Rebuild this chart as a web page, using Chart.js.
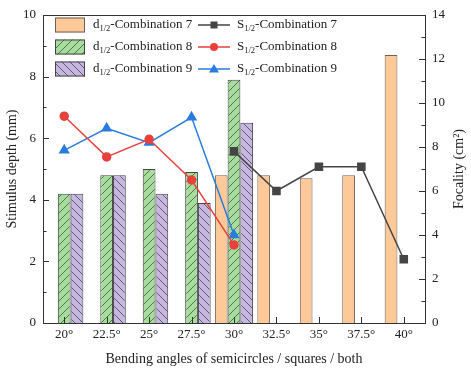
<!DOCTYPE html>
<html>
<head>
<meta charset="utf-8">
<script src="https://cdn.jsdelivr.net/npm/chart.js@4/dist/chart.umd.min.js"></script>
<style>
  html, body { margin: 0; padding: 0; background: #fff; }
  canvas { display: block; }
</style>
</head>
<body>
<canvas id="chart" width="471" height="371"></canvas>
<script>
// categories + values
const angles = ["20°", "22.5°", "25°", "27.5°", "30°", "32.5°", "35°", "37.5°", "40°"];

const depth7 = [null, null, null, null, 4.8, 4.8, 4.7, 4.8, 8.7];
const depth8 = [4.2, 4.8, 5.0, 4.9, 7.9, null, null, null, null];
const depth9 = [4.2, 4.8, 4.2, 3.9, 6.5, null, null, null, null];

const focality7 = [null, null, null, null, 7.8, 6.0, 7.1, 7.1, 2.9];
const focality8 = [9.4, 7.55, 8.35, 6.5, 3.55, null, null, null, null];
const focality9 = [7.85, 8.85, 8.2, 9.35, 4.0, null, null, null, null];

const depthTicks = [0, 2, 4, 6, 8, 10];
const focalityTicks = [0, 2, 4, 6, 8, 10, 12, 14];

const serif = "'Liberation Serif', 'Times New Roman', serif";
const axisColor = "#333";

function hatch(bg, lineColor, forward) {
  const c = document.createElement("canvas");
  c.width = 8;
  c.height = 8;
  const g = c.getContext("2d");
  g.fillStyle = bg;
  g.fillRect(0, 0, 8, 8);
  g.strokeStyle = lineColor;
  g.lineWidth = 0.8;
  g.beginPath();
  if (forward) {
    g.moveTo(0, 8); g.lineTo(8, 0);
    g.moveTo(-2, 2); g.lineTo(2, -2);
    g.moveTo(6, 10); g.lineTo(10, 6);
  } else {
    g.moveTo(0, 0); g.lineTo(8, 8);
    g.moveTo(-2, 6); g.lineTo(2, 10);
    g.moveTo(6, -2); g.lineTo(10, 2);
  }
  g.stroke();
  return g.createPattern(c, "repeat");
}

const ctx = document.getElementById("chart").getContext("2d");
const orangeFill = "#fdc998";
const greenFill = hatch("#a8dc9f", "#3d5c3a", true);
const purpleFill = hatch("#c6b7de", "#4b3d66", false);

// legend rows: bar part + line part, with the dataset index each refers to
const legendRows = [
  ["d", "-Combination 7", 0, "S", "-Combination 7", 3],
  ["d", "-Combination 8", 1, "S", "-Combination 8", 4],
  ["d", "-Combination 9", 2, "S", "-Combination 9", 5],
];

function drawSubLabel(c, x, y, main, sub, rest) {
  c.textAlign = "left";
  c.textBaseline = "middle";
  c.font = "13px " + serif;
  c.fillText(main, x, y);
  x += c.measureText(main).width;
  c.font = "8.5px " + serif;
  c.fillText(sub, x, y + 4);
  x += c.measureText(sub).width;
  c.font = "13px " + serif;
  c.fillText(rest, x, y);
}

function drawMarker(c, style, x, y, color) {
  c.fillStyle = color;
  c.beginPath();
  if (style === "rect") {
    c.rect(x - 3.5, y - 3.5, 7, 7);
  } else if (style === "circle") {
    c.arc(x, y, 4, 0, Math.PI * 2);
  } else {
    c.moveTo(x, y - 5);
    c.lineTo(x + 5, y + 3.5);
    c.lineTo(x - 5, y + 3.5);
    c.closePath();
  }
  c.fill();
}

const framePlugin = {
  id: "frame",
  afterDraw(chart) {
    const c = chart.ctx;
    const a = chart.chartArea;
    const yL = chart.scales.y;
    const yR = chart.scales.y1;
    const x = chart.scales.x;
    c.save();
    c.strokeStyle = axisColor;
    c.lineWidth = 1;
    c.beginPath();
    // top border
    c.moveTo(a.left, a.top + 0.5);
    c.lineTo(a.right, a.top + 0.5);
    // inward ticks, left + right
    for (let v = 0; v <= 10; v += 1) {
      const py = Math.round(yL.getPixelForValue(v)) + 0.5;
      const len = v % 2 === 0 ? 6 : 3.5;
      c.moveTo(a.left, py);
      c.lineTo(a.left + len, py);
    }
    for (let v = 0; v <= 14; v += 1) {
      const py = Math.round(yR.getPixelForValue(v)) + 0.5;
      const len = v % 2 === 0 ? 6 : 3.5;
      c.moveTo(a.right, py);
      c.lineTo(a.right - len, py);
    }
    angles.forEach((_, i) => {
      const px = Math.round(x.getPixelForValue(i)) + 0.5;
      c.moveTo(px, a.bottom);
      c.lineTo(px, a.bottom - 6);
    });
    c.stroke();

    // right axis title, reading bottom to top
    c.fillStyle = "#222";
    c.translate(459, (a.top + a.bottom) / 2);
    c.rotate(-Math.PI / 2);
    c.textAlign = "center";
    c.textBaseline = "middle";
    c.font = "14px " + serif;
    c.fillText("Focality (cm²)", 0, 0);
    c.restore();

    // legend
    c.save();
    const ds = chart.data.datasets;
    legendRows.forEach((row, r) => {
      const cy = a.top + 10 + r * 22;
      const bar = ds[row[2]];
      c.fillStyle = bar.backgroundColor;
      c.fillRect(a.left + 12, cy - 7.5, 30, 15);
      c.strokeStyle = bar.borderColor;
      c.lineWidth = 1;
      c.strokeRect(a.left + 12.5, cy - 7, 29, 14);
      c.fillStyle = "#222";
      drawSubLabel(c, a.left + 50, cy, row[0], "1/2", row[1]);

      const line = ds[row[5]];
      c.strokeStyle = line.borderColor;
      c.lineWidth = 1.5;
      c.beginPath();
      c.moveTo(a.left + 155, cy);
      c.lineTo(a.left + 187, cy);
      c.stroke();
      drawMarker(c, line.pointStyle, a.left + 171, cy, line.borderColor);
      c.fillStyle = "#222";
      drawSubLabel(c, a.left + 194, cy, row[3], "1/2", row[4]);
    });
    c.restore();
  },
};

new Chart(ctx, {
  type: "bar",
  data: {
    labels: angles,
    datasets: [
      { label: "d1/2-Combination 7", data: depth7, backgroundColor: orangeFill, borderColor: "#6f6155", borderWidth: 1, yAxisID: "y", order: 2 },
      { label: "d1/2-Combination 8", data: depth8, backgroundColor: greenFill, borderColor: "#444", borderWidth: 1, yAxisID: "y", order: 2 },
      { label: "d1/2-Combination 9", data: depth9, backgroundColor: purpleFill, borderColor: "#444", borderWidth: 1, yAxisID: "y", order: 2 },
      { type: "line", label: "S1/2-Combination 7", data: focality7, borderColor: "#454545", backgroundColor: "#454545", pointStyle: "rect", pointRadius: 5, borderWidth: 1.5, yAxisID: "y1", order: 1 },
      { type: "line", label: "S1/2-Combination 8", data: focality8, borderColor: "#e8413b", backgroundColor: "#e8413b", pointStyle: "circle", pointRadius: 4, borderWidth: 1.5, yAxisID: "y1", order: 1 },
      { type: "line", label: "S1/2-Combination 9", data: focality9, borderColor: "#2a7be0", backgroundColor: "#2a7be0", pointStyle: "triangle", pointRadius: 5, borderWidth: 1.5, yAxisID: "y1", order: 1 },
    ],
  },
  options: {
    responsive: false,
    animation: false,
    categoryPercentage: 0.9,
    barPercentage: 1.0,
    layout: { padding: { top: 15, left: 0, right: 0, bottom: 0 } },
    plugins: {
      legend: { display: false },
      tooltip: { enabled: false },
    },
    scales: {
      x: {
        grid: { display: false, drawTicks: false },
        border: { display: true, color: axisColor, width: 1 },
        ticks: { color: "#222", font: { family: serif, size: 13 }, padding: 4, maxRotation: 0 },
        title: { display: true, text: "Bending angles of semicircles / squares / both", color: "#222", font: { family: serif, size: 14 }, padding: { top: 4, bottom: 3 } },
        afterFit: (s) => { s.height = 48; },
      },
      y: {
        position: "left",
        min: 0,
        max: 10,
        afterBuildTicks: (s) => { s.ticks = depthTicks.map((v) => ({ value: v })); },
        grid: { display: false, drawTicks: false },
        border: { display: true, color: axisColor, width: 1 },
        ticks: { color: "#222", font: { family: serif, size: 13 }, padding: 7 },
        title: { display: true, text: "Stimulus depth (mm)", color: "#222", font: { family: serif, size: 14 }, padding: { top: 4, bottom: 0 } },
        afterFit: (s) => { s.width = 43; },
      },
      y1: {
        position: "right",
        min: 0,
        max: 14,
        afterBuildTicks: (s) => { s.ticks = focalityTicks.map((v) => ({ value: v })); },
        grid: { display: false, drawTicks: false },
        border: { display: true, color: axisColor, width: 1 },
        ticks: { color: "#222", font: { family: serif, size: 13 }, padding: 7 },
        afterFit: (s) => { s.width = 46; },
      },
    },
  },
  plugins: [framePlugin],
});
</script>
</body>
</html>
